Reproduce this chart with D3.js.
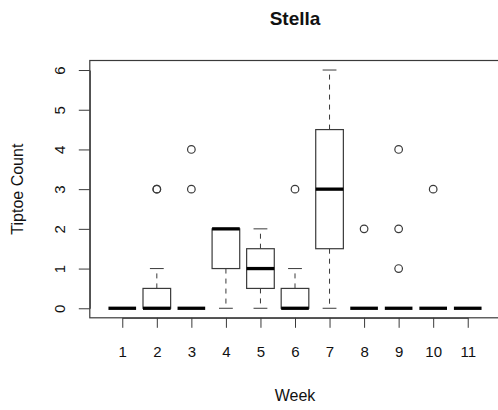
<!DOCTYPE html>
<html>
<head>
<meta charset="utf-8">
<script src="https://cdn.jsdelivr.net/npm/d3@7"></script>
<style>
  body { margin: 0; background: #fff; }
  svg { font-family: "Liberation Sans", Arial, Helvetica, sans-serif; }
</style>
</head>
<body>
<div id="chart"></div>
<script>
// boxplot stats per week
var weeks    = [1, 2, 3, 4, 5, 6, 7, 8, 9, 10, 11];
var lowWhisk = [0, 0, 0, 0, 0,   0, 0,   0, 0, 0, 0];
var q1s      = [0, 0, 0, 1, 0.5, 0, 1.5, 0, 0, 0, 0];
var medians  = [0, 0, 0, 2, 1,   0, 3,   0, 0, 0, 0];
var q3s      = [0, 0.5, 0, 2, 1.5, 0.5, 4.5, 0, 0, 0, 0];
var hiWhisk  = [0, 1, 0, 2, 2,   1, 6,   0, 0, 0, 0];
var outliers = [[], [3, 3], [3, 4], [], [], [3], [], [2], [1, 2, 4], [3], []];
var yTicks   = [0, 1, 2, 3, 4, 5, 6];

var W = 498, H = 410;
var margins = {top: 60.5, left: 89.8, bottom: 92.2, right: -2.2};

var svg = d3.select("#chart").append("svg")
    .attr("width", W)
    .attr("height", H);

// R style: 4% padding around the data range
var x = d3.scaleLinear()
    .domain([0.06, 11.94])
    .range([margins.left, W - margins.right]);

var y = d3.scaleLinear()
    .domain([-0.24, 6.24])
    .range([H - margins.bottom, margins.top]);

var boxW = x(0.8) - x(0);
var lineCol = "#3a3a3a";

// y axis
var yAxisScale = d3.scaleLinear().domain([0, 6]).range([y(0), y(6)]);
var gy = svg.append("g")
    .attr("transform", "translate(" + margins.left + ",0)")
    .call(d3.axisLeft(yAxisScale).tickValues(yTicks).tickFormat(d3.format("d"))
        .tickSize(11).tickSizeOuter(0));
gy.select(".domain").attr("stroke", lineCol);
gy.selectAll(".tick line").attr("stroke", lineCol);
gy.selectAll(".tick text")
    .attr("x", null).attr("y", null)
    .attr("transform", "translate(-30,0) rotate(-90)")
    .attr("text-anchor", "middle")
    .attr("dy", "0.35em")
    .attr("font-size", "15px")
    .attr("fill", "#111");

// x axis
var xAxisScale = d3.scaleLinear().domain([1, 11]).range([x(1), x(11)]);
var gx = svg.append("g")
    .attr("transform", "translate(0," + y(-0.24) + ")")
    .call(d3.axisBottom(xAxisScale).tickValues(weeks).tickFormat(d3.format("d"))
        .tickSize(10).tickSizeOuter(0).tickPadding(19));
gx.select(".domain").attr("stroke", lineCol);
gx.selectAll(".tick line").attr("stroke", lineCol);
gx.selectAll(".tick text").attr("font-size", "15px").attr("fill", "#111");

// plot frame
svg.append("rect")
    .attr("x", x(0.06))
    .attr("y", y(6.24))
    .attr("width", x(11.94) - x(0.06))
    .attr("height", y(-0.24) - y(6.24))
    .attr("fill", "none")
    .attr("stroke", lineCol)
    .attr("stroke-width", 1.2);

var boxes = svg.append("g").selectAll("g")
    .data(weeks)
    .enter().append("g");

// whiskers
boxes.append("line")
    .attr("x1", function(d) { return x(d); })
    .attr("x2", function(d) { return x(d); })
    .attr("y1", function(d, i) { return y(q3s[i]); })
    .attr("y2", function(d, i) { return y(hiWhisk[i]); })
    .attr("stroke", lineCol).attr("stroke-dasharray", "5,5");
boxes.append("line")
    .attr("x1", function(d) { return x(d); })
    .attr("x2", function(d) { return x(d); })
    .attr("y1", function(d, i) { return y(q1s[i]); })
    .attr("y2", function(d, i) { return y(lowWhisk[i]); })
    .attr("stroke", lineCol).attr("stroke-dasharray", "5,5");

// staples
boxes.append("line")
    .attr("x1", function(d) { return x(d) - boxW / 4; })
    .attr("x2", function(d) { return x(d) + boxW / 4; })
    .attr("y1", function(d, i) { return y(hiWhisk[i]); })
    .attr("y2", function(d, i) { return y(hiWhisk[i]); })
    .attr("stroke", lineCol);
boxes.append("line")
    .attr("x1", function(d) { return x(d) - boxW / 4; })
    .attr("x2", function(d) { return x(d) + boxW / 4; })
    .attr("y1", function(d, i) { return y(lowWhisk[i]); })
    .attr("y2", function(d, i) { return y(lowWhisk[i]); })
    .attr("stroke", lineCol);

// boxes
boxes.append("rect")
    .attr("x", function(d) { return x(d) - boxW / 2; })
    .attr("y", function(d, i) { return y(q3s[i]); })
    .attr("width", boxW)
    .attr("height", function(d, i) { return y(q1s[i]) - y(q3s[i]); })
    .attr("fill", "#fff")
    .attr("stroke", lineCol)
    .attr("stroke-width", 1.2);

// medians
boxes.append("line")
    .attr("x1", function(d) { return x(d) - boxW / 2; })
    .attr("x2", function(d) { return x(d) + boxW / 2; })
    .attr("y1", function(d, i) { return y(medians[i]); })
    .attr("y2", function(d, i) { return y(medians[i]); })
    .attr("stroke", "#000")
    .attr("stroke-width", 3.3);

// outliers
boxes.selectAll("circle")
    .data(function(d, i) { return outliers[i].map(function(v) { return {week: d, value: v}; }); })
    .enter().append("circle")
    .attr("cx", function(d) { return x(d.week); })
    .attr("cy", function(d) { return y(d.value); })
    .attr("r", 3.8)
    .attr("fill", "none")
    .attr("stroke", lineCol)
    .attr("stroke-width", 1.2);

// titles
svg.append("text")
    .attr("x", (x(0.06) + x(11.94)) / 2)
    .attr("y", 18)
    .attr("dy", "0.35em")
    .attr("text-anchor", "middle")
    .attr("font-size", "19px")
    .attr("font-weight", "bold")
    .attr("fill", "#111")
    .text("Stella");

svg.append("text")
    .attr("x", (x(0.06) + x(11.94)) / 2)
    .attr("y", 395)
    .attr("dy", "0.35em")
    .attr("text-anchor", "middle")
    .attr("font-size", "16px")
    .attr("fill", "#111")
    .text("Week");

svg.append("text")
    .attr("transform", "translate(17," + ((y(-0.24) + y(6.24)) / 2) + ") rotate(-90)")
    .attr("dy", "0.35em")
    .attr("text-anchor", "middle")
    .attr("font-size", "16px")
    .attr("fill", "#111")
    .text("Tiptoe Count");
</script>
</body>
</html>
